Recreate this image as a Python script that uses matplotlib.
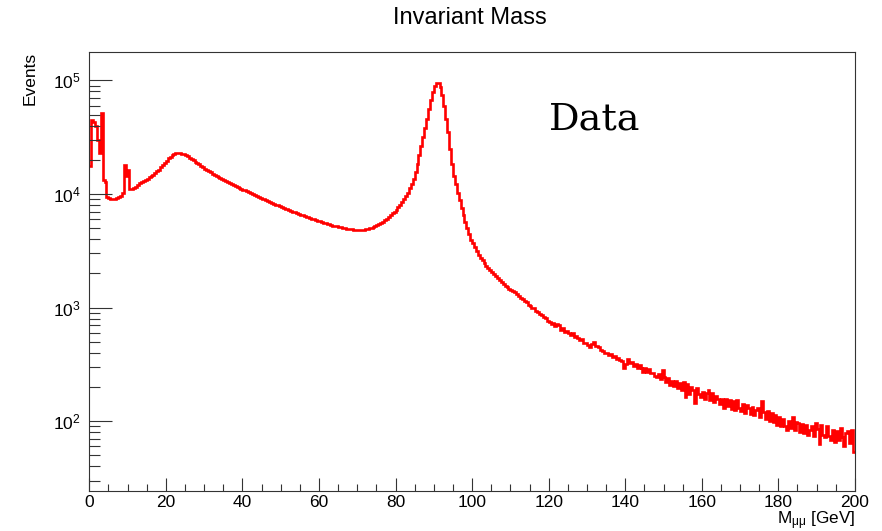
# coding: utf-8

import numpy as np
import matplotlib
matplotlib.use('Agg')
import matplotlib.pyplot as plt
from matplotlib.ticker import MultipleLocator, LogLocator, NullFormatter

# histogram range [GeV]
m_lo = 0.0
m_hi = 200.0

# events per 0.5 GeV bin (10 bins = 5 GeV per row)
counts = [
    17700, 44500, 43500, 39400, 30000, 23000, 52000, 13400, 12800, 9500,    # 0-5
    9300, 9100, 9050, 9100, 9250, 9400, 9650, 10300, 18100, 14500,          # 5-10
    16400, 11000, 11150, 11350, 11600, 12000, 12450, 12750, 13000, 13300,   # 10-15
    13650, 14050, 14400, 14800, 15250, 15800, 16400, 17150, 17900, 18800,   # 15-20
    19700, 20600, 21400, 22000, 22500, 22800, 22950, 22900, 22700, 22350,   # 20-25
    21950, 21500, 20900, 20400, 19850, 19300, 18750, 18200, 17650, 17150,   # 25-30
    16700, 16300, 15900, 15500, 15150, 14800, 14450, 14100, 13800, 13500,   # 30-35
    13250, 13000, 12750, 12500, 12250, 12000, 11800, 11550, 11350, 11150,   # 35-40
    10950, 10750, 10550, 10350, 10150, 9980, 9800, 9620, 9450, 9300,        # 40-45
    9130, 8970, 8800, 8650, 8500, 8350, 8220, 8080, 7950, 7820,             # 45-50
    7700, 7570, 7450, 7330, 7210, 7100, 6990, 6880, 6780, 6680,             # 50-55
    6590, 6490, 6400, 6310, 6220, 6130, 6050, 5970, 5890, 5810,             # 55-60
    5740, 5670, 5600, 5530, 5460, 5400, 5340, 5280, 5230, 5180,             # 60-65
    5130, 5090, 5040, 5000, 4960, 4930, 4900, 4880, 4860, 4850,             # 65-70
    4840, 4840, 4850, 4870, 4900, 4940, 4990, 5050, 5120, 5210,             # 70-75
    5310, 5430, 5560, 5710, 5880, 6070, 6280, 6500, 6740, 7000,             # 75-80
    7300, 7650, 8050, 8500, 9000, 9600, 10300, 11200, 12300, 13700,         # 80-85
    15600, 18400, 22000, 26500, 31500, 38000, 46000, 56000, 67000, 79000,   # 85-90
    89000, 95500, 95000, 88000, 75000, 60000, 46000, 35000, 25000, 18500,   # 90-95
    14500, 12200, 10300, 8800, 7500, 6500, 5650, 5000, 4450, 3950,          # 95-100
    3700, 3400, 3150, 2930, 2750, 2600, 2460, 2340, 2230, 2130,             # 100-105
    2040, 1960, 1880, 1810, 1740, 1680, 1620, 1565, 1510, 1460,             # 105-110
    1440, 1390, 1360, 1310, 1270, 1220, 1190, 1140, 1110, 1060,             # 110-115
    1040, 990, 985, 930, 915, 880, 870, 825, 805, 770,                      # 115-120
    750, 712, 730, 695, 712, 700, 632, 668, 610, 628,                       # 120-125
    596, 570, 600, 548, 565, 540, 520, 528, 492, 485,                       # 125-130
    470, 452, 482, 500, 462, 458, 452, 425, 418, 400,                       # 130-135
    398, 380, 392, 370, 372, 355, 360, 348, 342, 292,                       # 135-140
    322, 350, 325, 330, 308, 318, 296, 315, 292, 270,                       # 140-145
    296, 272, 288, 265, 268, 250, 245, 258, 236, 285,                       # 145-150
    245, 222, 238, 208, 228, 204, 225, 195, 218, 190,                       # 150-155
    222, 165, 212, 172, 200, 188, 146, 195, 175, 162,                       # 155-160
    182, 158, 178, 188, 155, 176, 148, 168, 158, 142,                       # 160-165
    156, 132, 158, 136, 154, 128, 150, 126, 155, 132,                       # 165-170
    124, 142, 118, 138, 130, 116, 134, 114, 126, 130,                       # 170-175
    110, 152, 120, 104, 124, 100, 118, 98, 114, 92,                         # 175-180
    108, 90, 104, 90, 84, 100, 88, 110, 84, 98,                             # 180-185
    96, 80, 94, 78, 92, 75, 84, 90, 74, 97,                                 # 185-190
    86, 63, 92, 76, 72, 90, 74, 68, 84, 66,                                 # 190-195
    82, 68, 88, 72, 60, 78, 82, 64, 84, 54,                                 # 195-200
]

x_ticks_major = 20
x_ticks_minor = 5

title = 'Invariant Mass'
x_title = r'$\mathregular{M_{\mu\mu}}$ [GeV]'
y_title = 'Events'
label = 'Data'

# ROOT-like fonts
plt.rcParams['font.family'] = ['Liberation Sans', 'DejaVu Sans']
plt.rcParams['mathtext.fontset'] = 'custom'
plt.rcParams['mathtext.rm'] = 'Liberation Sans'
plt.rcParams['mathtext.it'] = 'Liberation Sans:italic'
plt.rcParams['mathtext.default'] = 'regular'

edges = np.linspace(m_lo, m_hi, len(counts) + 1)

fig = plt.figure(figsize=(8.82, 5.31), dpi=100)
ax = fig.add_axes([0.1012, 0.0753, 0.8681, 0.8273])

# histogram outline
ax.stairs(counts, edges, color='#ff0000', lw=1.9, baseline=None)

ax.set_yscale('log')
ax.set_xlim(m_lo, m_hi)
ax.set_ylim(24.3, 1.79e5)

# ticks
ax.xaxis.set_major_locator(MultipleLocator(x_ticks_major))
ax.xaxis.set_minor_locator(MultipleLocator(x_ticks_minor))
ax.yaxis.set_major_locator(LogLocator(base=10))
ax.yaxis.set_minor_locator(LogLocator(base=10, subs=np.arange(2, 10)))
ax.yaxis.set_minor_formatter(NullFormatter())
ax.tick_params(axis='both', which='both', direction='in', top=False, right=False,
               color='#333333', width=0.8, labelsize=12.5)
ax.tick_params(axis='x', which='major', length=9.5, pad=3)
ax.tick_params(axis='x', which='minor', length=5)
ax.tick_params(axis='y', which='major', length=16.5, pad=6)
ax.tick_params(axis='y', which='minor', length=8)
for s in ax.spines.values():
    s.set_color('#333333')
    s.set_linewidth(0.8)

# texts
fig.text(470 / 882, 1 - 18 / 531, title, ha='center', va='center', fontsize=17)
fig.text(30 / 882, 1 - 52 / 531, y_title, rotation=90, ha='center', va='top', fontsize=12.5)
fig.text(855 / 882, 1 - 524 / 531, x_title, ha='right', va='baseline', fontsize=12.3)
ax.text(0.600, 0.824, label, transform=ax.transAxes, fontsize=27.5,
        family='DejaVu Serif', va='baseline')

fig.savefig('out.png', dpi=100)
